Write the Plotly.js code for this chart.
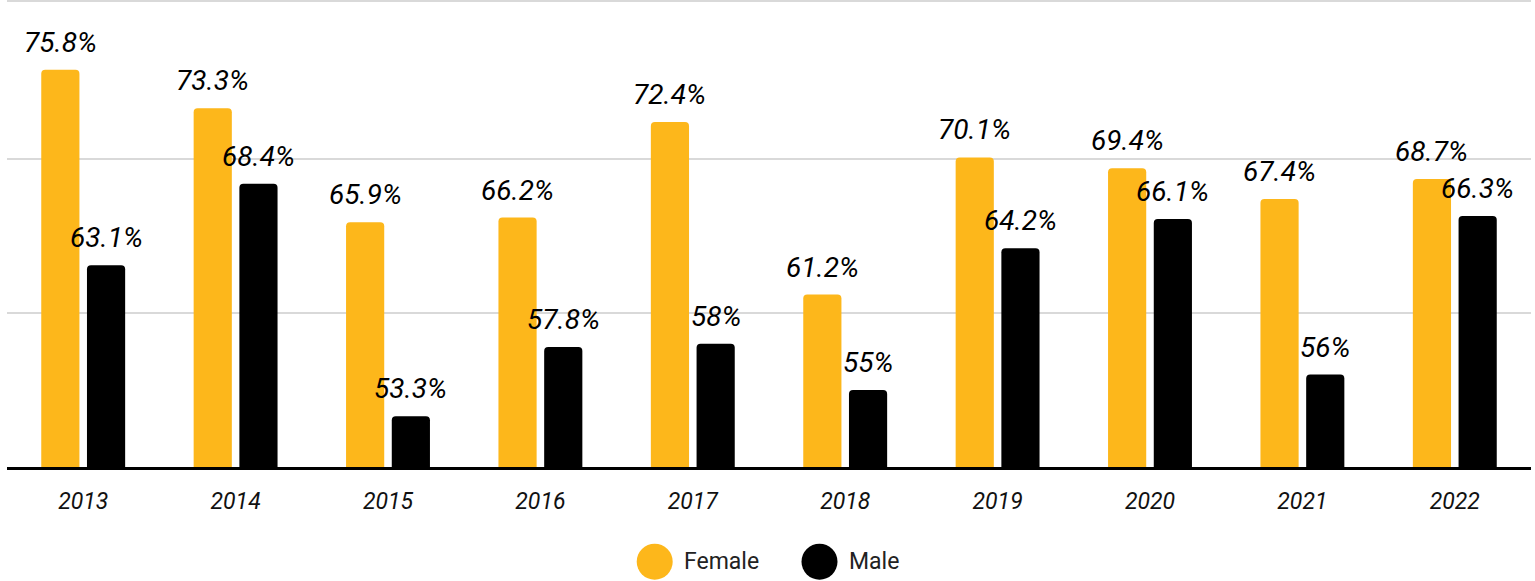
<!DOCTYPE html>
<html>
<head>
<meta charset="utf-8">
<script src="https://cdn.plot.ly/plotly-3.0.1.min.js"></script>
<style>html,body{margin:0;padding:0;background:#fff;}#chart{width:1535px;height:581px;}</style>
</head>
<body>
<div id="chart"></div>
<script>
const years = ['2013','2014','2015','2016','2017','2018','2019','2020','2021','2022'];
const female = [75.8, 73.3, 65.9, 66.2, 72.4, 61.2, 70.1, 69.4, 67.4, 68.7];
const male = [63.1, 68.4, 53.3, 57.8, 58, 55, 64.2, 66.1, 56, 66.3];
const seriesNames = ['Female', 'Male'];
const seriesColors = ['#FDB71B', '#000000'];

const W = 1535, H = 581;
const M = {l: 7, r: 4, t: 1, b: 114};
const plotW = W - M.l - M.r, plotH = H - M.t - M.b;
const catW = plotW / years.length;
const bargap = 0.4, bargroupgap = 0.165;
const slot = catW * (1 - bargap) / 2;

const traces = [female, male].map((vals, i) => ({
  type: 'bar', x: years, y: vals, name: seriesNames[i],
  marker: {color: seriesColors[i], cornerradius: 4},
  showlegend: false, hoverinfo: 'x+y'
}));

const labelFont = {family: 'Roboto', size: 28, color: '#000', style: 'italic'};
const annotations = [];
[female, male].forEach((vals, i) => {
  vals.forEach((v, j) => {
    annotations.push({
      x: j, y: v, xref: 'x', yref: 'y', text: v + '%',
      showarrow: false, xanchor: 'center', yanchor: 'bottom',
      xshift: (i === 0 ? -1 : 1) * slot / 2, yshift: 9, font: labelFont
    });
  });
});

// custom legend (circle markers)
const legendCenters = [654.7, 819.5];
const legendTextX = [682, 847];
const legendY = 561.7;
const shapes = [{
  type: 'line', xref: 'paper', yref: 'paper', x0: 0, x1: 1, y0: 1, y1: 1,
  line: {color: '#d9d9d9', width: 2}
}];
seriesNames.forEach((n, i) => {
  const xa = (legendCenters[i] - M.l) / plotW;
  const dy = -(legendY - (M.t + plotH));
  shapes.push({
    type: 'circle', xref: 'paper', yref: 'paper',
    xsizemode: 'pixel', ysizemode: 'pixel', xanchor: xa, yanchor: 0,
    x0: -18, x1: 18, y0: dy - 18, y1: dy + 18,
    fillcolor: seriesColors[i], line: {width: 0}
  });
  annotations.push({
    xref: 'paper', yref: 'paper', x: (legendTextX[i] - M.l) / plotW, y: 0,
    xanchor: 'left', yanchor: 'middle', yshift: dy, showarrow: false,
    text: n, font: {family: 'Roboto', size: 23, color: '#222'}
  });
});

const layout = {
  width: W, height: H,
  margin: M,
  paper_bgcolor: '#fff', plot_bgcolor: '#fff',
  barmode: 'group', bargap: bargap, bargroupgap: bargroupgap,
  showlegend: false,
  xaxis: {
    type: 'category', range: [-0.5, years.length - 0.5], autorange: false,
    showgrid: false, zeroline: false,
    showline: true, linecolor: '#000', linewidth: 3,
    ticks: '', tickfont: {family: 'Roboto', size: 23, color: '#111', style: 'italic'},
    ticklabelstandoff: 11
  },
  yaxis: {
    range: [50, 50 + plotH / 15.4], autorange: false, tickvals: [60, 70], showticklabels: false,
    showgrid: true, gridcolor: '#d9d9d9', gridwidth: 2, zeroline: false, showline: false, ticks: ''
  },
  annotations: annotations,
  shapes: shapes,
  font: {family: 'Roboto'}
};

Plotly.newPlot('chart', traces, layout, {displayModeBar: false, staticPlot: true});
</script>
</body>
</html>
